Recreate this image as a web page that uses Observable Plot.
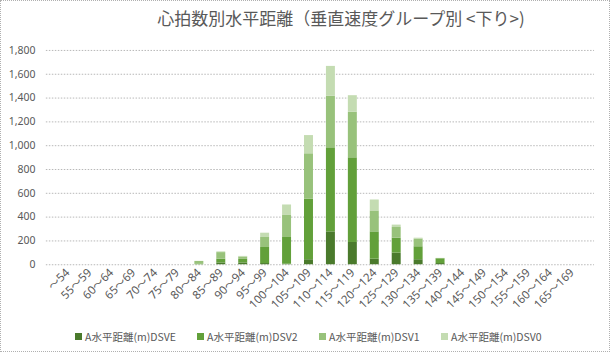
<!DOCTYPE html>
<html>
<head>
<meta charset="utf-8">
<script src="https://cdn.jsdelivr.net/npm/d3@7"></script>
<script src="https://cdn.jsdelivr.net/npm/@observablehq/plot@0.6"></script>
<style>
  html, body { margin: 0; padding: 0; background: #fff; }
  #wrap { position: relative; width: 608px; height: 350px; border: 1px dotted #b0b0b0; overflow: hidden; font-family: "Noto Sans CJK JP", "Noto Sans", sans-serif; }
  #title { position: absolute; top: 4px; left: 0; width: 610px; padding-left: 70px; box-sizing: border-box; text-align: center; font-size: 17px; color: #595959; white-space: nowrap; }
  #chart { position: absolute; top: 34px; left: 0; }
  #legend { position: absolute; top: 328px; left: 0; width: 610px; height: 16px; font-size: 10.5px; color: #595959; }
  .item { position: absolute; top: 0; display: flex; align-items: center; white-space: nowrap; }
  .sw { width: 7px; height: 7px; margin-right: 3px; }
</style>
</head>
<body>
<div id="wrap">
  <div id="title">心拍数別水平距離（垂直速度グループ別 &lt;下り&gt;)</div>
  <div id="chart"></div>
  <div id="legend"></div>
</div>
<script>
const categories = ["～54","55～59","60～64","65～69","70～74","75～79","80～84","85～89","90～94","95～99","100～104","105～109","110～114","115～119","120～124","125～129","130～134","135～139","140～144","145～149","150～154","155～159","160～164","165～169"];
const seriesNames = ["A水平距離(m)DSVE","A水平距離(m)DSV2","A水平距離(m)DSV1","A水平距離(m)DSV0"];
const seriesColors = ["#4a7a2c","#62a03a","#98c27b","#c4dcb2"];
const DSVE = [0,0,0,0,0,0,0,15,15,10,5,42,276,187,47,98,42,10,0,0,0,0,0,0];
const DSV2 = [0,0,0,0,0,0,3,32,30,135,224,508,706,711,229,125,109,40,0,0,0,0,0,0];
const DSV1 = [0,0,0,0,0,0,25,55,20,84,189,382,433,383,176,90,65,3,0,0,0,0,0,0];
const DSV0 = [0,0,0,0,0,0,0,6,5,36,84,153,251,139,92,20,7,0,0,0,0,0,0,0];
const yTicks = [0,200,400,600,800,1000,1200,1400,1600,1800];

const seriesValues = [DSVE, DSV2, DSV1, DSV0];
const data = [];
seriesNames.forEach((s, i) => {
  categories.forEach((c, j) => data.push({cat: c, series: s, value: seriesValues[i][j]}));
});

const chart = Plot.plot({
  width: 610,
  height: 290,
  marginLeft: 45,
  marginRight: 15,
  marginTop: 15,
  marginBottom: 60,
  style: {fontFamily: "'Noto Sans', 'Noto Sans CJK JP', sans-serif", fontSize: "10.5px", color: "#595959", background: "#fff"},
  x: {domain: categories, padding: 0.58, label: null},
  y: {domain: [0, 1800], ticks: yTicks, label: null},
  color: {domain: seriesNames, range: seriesColors},
  marks: [
    Plot.gridY(yTicks.filter(d => d > 0), {stroke: "#b8b8b8", strokeOpacity: 1, strokeDasharray: "1.5,1.5"}),
    Plot.ruleY([0], {stroke: "#b8b8b8", strokeDasharray: "1.5,1.5"}),
    Plot.barY(data, {x: "cat", y: "value", fill: "series"}),
    Plot.axisY({ticks: yTicks, tickFormat: d3.format(","), tickSize: 0, tickPadding: 11, label: null, fill: "#595959", fontSize: 10.5}),
    Plot.axisX({tickRotate: -45, tickSize: 0, tickPadding: 6, label: null, fill: "#595959", fontSize: 11.5})
  ]
});
document.getElementById("chart").appendChild(chart);

const legend = document.getElementById("legend");
const lx = [74, 196, 318, 440];
seriesNames.forEach((s, i) => {
  const it = document.createElement("div");
  it.className = "item";
  it.style.left = lx[i] + "px";
  const sw = document.createElement("span");
  sw.className = "sw";
  sw.style.background = seriesColors[i];
  const t = document.createElement("span");
  t.textContent = s;
  it.appendChild(sw); it.appendChild(t);
  legend.appendChild(it);
});
</script>
</body>
</html>
